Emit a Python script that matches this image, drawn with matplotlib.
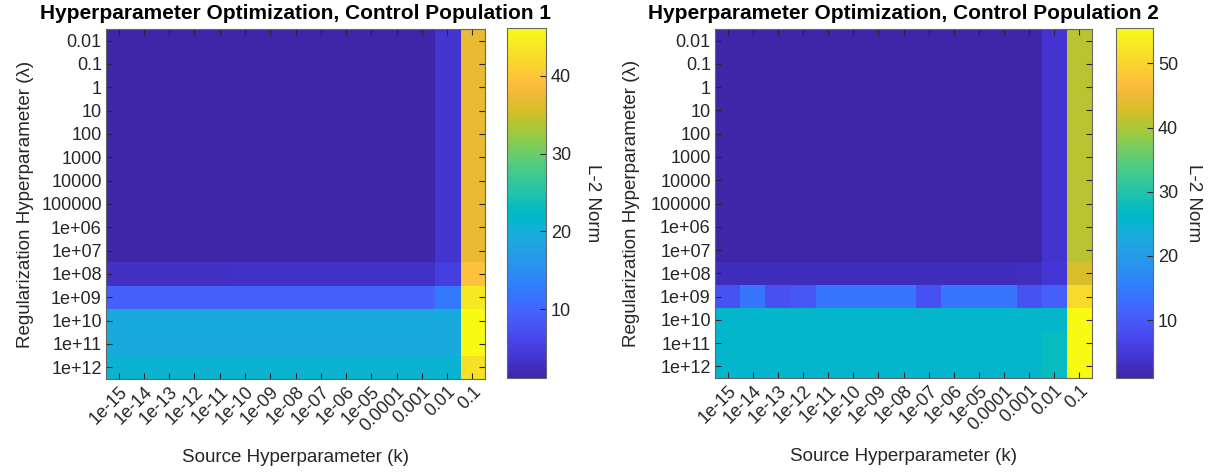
import matplotlib.pyplot as plt
import numpy as np
from matplotlib.colors import LinearSegmentedColormap

plt.rcParams['font.family'] = ['Liberation Sans', 'DejaVu Sans']

k_labels = ['1e-15', '1e-14', '1e-13', '1e-12', '1e-11', '1e-10', '1e-09', '1e-08',
            '1e-07', '1e-06', '1e-05', '0.0001', '0.001', '0.01', '0.1']
lam_labels = ['0.01', '0.1', '1', '10', '100', '1000', '10000', '100000',
              '1e+06', '1e+07', '1e+08', '1e+09', '1e+10', '1e+11', '1e+12']

# L-2 norm, rows = lambda (0.01 .. 1e+12), cols = k (1e-15 .. 0.1)
pop1 = [
    [1.2]*13 + [4.0, 37.0],
    [1.2]*13 + [4.0, 37.0],
    [1.2]*13 + [4.0, 37.0],
    [1.2]*13 + [4.0, 37.0],
    [1.2]*13 + [4.0, 37.0],
    [1.2]*13 + [4.0, 37.0],
    [1.2]*13 + [4.0, 37.0],
    [1.2]*13 + [4.0, 37.0],
    [1.2]*13 + [4.0, 37.0],
    [1.3]*13 + [4.0, 37.0],
    [3.0, 3.0, 3.0, 3.0, 3.0, 3.2, 3.2, 3.2, 3.2, 3.2, 3.2, 3.2, 3.3, 5.0, 39.5],
    [9.5]*13 + [12.5, 44.0],
    [19.3]*14 + [46.1],
    [19.3]*14 + [46.1],
    [21.0]*14 + [43.0],
]

pop2 = [
    [1.0]*13 + [4.0, 41.0],
    [1.0]*13 + [4.0, 41.0],
    [1.0]*13 + [4.0, 41.0],
    [1.0]*13 + [4.0, 41.0],
    [1.0]*13 + [4.0, 41.0],
    [1.0]*13 + [4.0, 41.0],
    [1.0]*13 + [4.0, 41.0],
    [1.0]*13 + [4.0, 41.0],
    [1.0]*13 + [4.0, 41.0],
    [1.0]*13 + [4.0, 41.0],
    [2.5]*12 + [2.8, 4.5, 43.0],
    [9.0, 14.0, 8.8, 9.6, 14.0, 14.0, 14.0, 14.0, 8.5, 14.0, 14.0, 14.0, 9.0, 11.0, 51.0],
    [25.8]*14 + [55.5],
    [25.8]*13 + [27.2, 55.5],
    [25.8]*13 + [27.2, 55.5],
]

cticks1 = [10, 20, 30, 40]
cticks2 = [10, 20, 30, 40, 50]

# parula (matlab), some entries of the 64 colour table: (index, rgb)
parula_pts = [
    (0, (0.2422, 0.1504, 0.6603)), (4, (0.2706, 0.2147, 0.8364)),
    (8, (0.2813, 0.3006, 0.9414)), (12, (0.2699, 0.3892, 0.9906)),
    (16, (0.1963, 0.4847, 0.9892)), (20, (0.1687, 0.5703, 0.9359)),
    (24, (0.1248, 0.6459, 0.8883)), (27, (0.0689, 0.6948, 0.8394)),
    (29, (0.0036, 0.7203, 0.7917)), (31, (0.0433, 0.7411, 0.7394)),
    (35, (0.1938, 0.7758, 0.6251)), (39, (0.3406, 0.8008, 0.4789)),
    (42, (0.5044, 0.7993, 0.3480)), (45, (0.6720, 0.7793, 0.2227)),
    (48, (0.8203, 0.7498, 0.1535)), (51, (0.9393, 0.7288, 0.2100)),
    (53, (0.9956, 0.7434, 0.2371)), (57, (0.9786, 0.8386, 0.1766)),
    (60, (0.9597, 0.9135, 0.1423)), (63, (0.9769, 0.9839, 0.0805)),
]
parula = LinearSegmentedColormap.from_list(
    'parula', [(i / 63.0, c) for i, c in parula_pts], N=256)

fig = plt.figure(figsize=(12.17, 4.76), dpi=100)
W, H = 1217.0, 476.0


def panel(ax_px, cb_px, data, title, cticks, ylab_x, cblab_x):
    x0, x1, y0, y1 = ax_px
    ax = fig.add_axes([x0 / W, 1 - y1 / H, (x1 - x0) / W, (y1 - y0) / H])
    im = ax.imshow(np.array(data), cmap=parula, aspect='auto', interpolation='nearest')
    ax.set_xticks(range(len(k_labels)))
    ax.set_xticklabels(k_labels, rotation=45, ha='right', rotation_mode='anchor')
    ax.set_yticks(range(len(lam_labels)))
    ax.set_yticklabels(lam_labels)
    ax.tick_params(direction='in', top=True, right=True, length=4, width=0.8,
                   color='0.15', labelsize=13, labelcolor='0.15', pad=3)
    for s in ax.spines.values():
        s.set_color('0.4')
        s.set_linewidth(0.8)
    ax.set_title(title, fontsize=15, fontweight='bold', pad=7)
    ax.set_xlabel('Source Hyperparameter (k)', fontsize=13.5, color='0.15')
    ax.xaxis.set_label_coords(0.5, -0.2)
    ax.set_ylabel('Regularization Hyperparameter (\u03bb)', fontsize=13.5, color='0.15')
    ax.yaxis.set_label_coords(ylab_x, 0.5)

    c0, c1, cy0, cy1 = cb_px
    cax = fig.add_axes([c0 / W, 1 - cy1 / H, (c1 - c0) / W, (cy1 - cy0) / H])
    cb = fig.colorbar(im, cax=cax)
    cb.set_ticks(cticks)
    cax.tick_params(direction='in', length=4, width=0.8, color='0.15',
                    labelsize=13, labelcolor='0.15')
    cb.outline.set_edgecolor('0.4')
    cb.outline.set_linewidth(0.8)
    cb.set_label('L-2 Norm', rotation=270, fontsize=13.5, color='0.15',
                 va='center', ha='center')
    cax.yaxis.set_label_coords(cblab_x, 0.5)


panel((106, 485, 29, 379), (507, 546, 28, 378), pop1,
      'Hyperparameter Optimization, Control Population 1', cticks1, -0.19, 2.2)
panel((715, 1092, 29, 378), (1116, 1153, 28, 378), pop2,
      'Hyperparameter Optimization, Control Population 2', cticks2, -0.2, 2.1)

plt.savefig('out.png', dpi=100)
